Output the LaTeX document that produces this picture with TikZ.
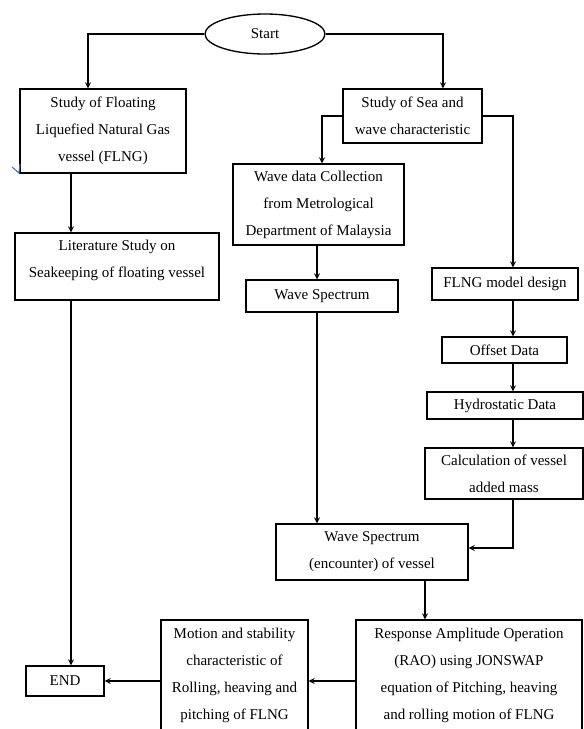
\documentclass[tikz,border=0pt]{standalone}
\usepackage{fontspec}
\setmainfont{Liberation Serif}
\usetikzlibrary{calc,shapes.geometric}
\definecolor{tickblue}{RGB}{60,110,200}
\tikzset{
  box/.style={draw,line width=1pt,inner sep=0pt,align=center,
    font=\fontsize{11.25}{20.25}\selectfont},
  flow/.style={->,>=stealth,line width=1pt},
}
\begin{document}
\begin{tikzpicture}[x=0.75pt,y=-0.75pt]
  \useasboundingbox (0,0) rectangle (584,729);
  % left column
  \node[box,ellipse,minimum width=90pt,minimum height=30pt] (start) at (265,34) {Start};
  \node[box,minimum width=124.5pt,minimum height=63pt] (flng) at (103,131)
    {Study of Floating\\Liquefied Natural Gas\\vessel (FLNG)};
  \node[box,minimum width=153pt,minimum height=50.25pt] (lit) at (117,266.5)
    {Literature Study on\\Seakeeping of floating vessel\\[-8pt]\mbox{}};
  \node[box,minimum width=58.5pt,minimum height=22.5pt] (endbox) at (65,681) {END};
  % middle column
  \node[box,minimum width=104.25pt,minimum height=40.5pt] (sea) at (412.5,116)
    {Study of Sea and\\wave characteristic};
  \node[box,minimum width=128.25pt,minimum height=60.75pt] (wavedata) at (318.5,204.5)
    {Wave data Collection\\from Metrological\\Department of Malaysia};
  \node[box,minimum width=114pt,minimum height=24pt] (spectrum) at (322,296) {Wave Spectrum};
  \node[box,minimum width=144pt,minimum height=42pt] (encounter) at (372,552)
    {Wave Spectrum\\(encounter) of vessel};
  % right column
  \node[box,minimum width=109.5pt,minimum height=24pt] (model) at (505,284) {FLNG model design};
  \node[box,minimum width=93.75pt,minimum height=19.5pt] (offset) at (504.5,350) {Offset Data};
  \node[box,minimum width=117pt,minimum height=20.25pt] (hydro) at (505,405.5) {Hydrostatic Data};
  \node[box,minimum width=118.5pt,minimum height=38.25pt] (calc) at (504,473.5)
    {Calculation of vessel\\added mass};
  % bottom row
  \node[box,minimum width=169.5pt,minimum height=83.25pt] (rao) at (469,675.5)
    {Response Amplitude Operation\\(RAO) using JONSWAP\\equation of Pitching, heaving\\and rolling motion of FLNG};
  \node[box,minimum width=110.25pt,minimum height=83.25pt] (motion) at (234.5,675.5)
    {Motion and stability\\characteristic of\\Rolling, heaving and\\pitching of FLNG};

  \draw[flow] (start.west) -| ($(flng.north)+(-15,0)$);
  \draw[flow] (start.east) -| ($(sea.north)+(30.5,0)$);
  \draw[flow] ($(flng.south)+(-32,0)$) coordinate (f1) -- (f1 |- lit.north);
  \draw[flow] (f1 |- lit.south) -- (f1 |- endbox.north);
  \draw[flow] (sea.west) -| ($(wavedata.north)+(3.5,0)$);
  \draw[flow] (sea.east) -| ($(model.north)+(8,0)$);
  \draw[flow] ($(wavedata.south)+(-1.5,0)$) coordinate (w1) -- (w1 |- spectrum.north);
  \draw[flow] (w1 |- spectrum.south) -- (w1 |- encounter.north);
  \draw[flow] ($(model.south)+(8,0)$) coordinate (m1) -- (m1 |- offset.north);
  \draw[flow] (m1 |- offset.south) -- (m1 |- hydro.north);
  \draw[flow] (m1 |- hydro.south) -- (m1 |- calc.north);
  \draw[flow] (m1 |- calc.south) |- ($(encounter.east)+(0,-4)$);
  \draw[flow] ($(encounter.south)+(53,0)$) coordinate (e1) -- (e1 |- rao.north);
  \draw[flow] (rao.west |- endbox.east) -- (motion.east |- endbox.east);
  \draw[flow] (motion.west |- endbox.east) -- (endbox.east);
  \draw[tickblue,line width=0.8pt] (12,167) -- (19,173) -- (20,164); % 青い印
\end{tikzpicture}
\end{document}
